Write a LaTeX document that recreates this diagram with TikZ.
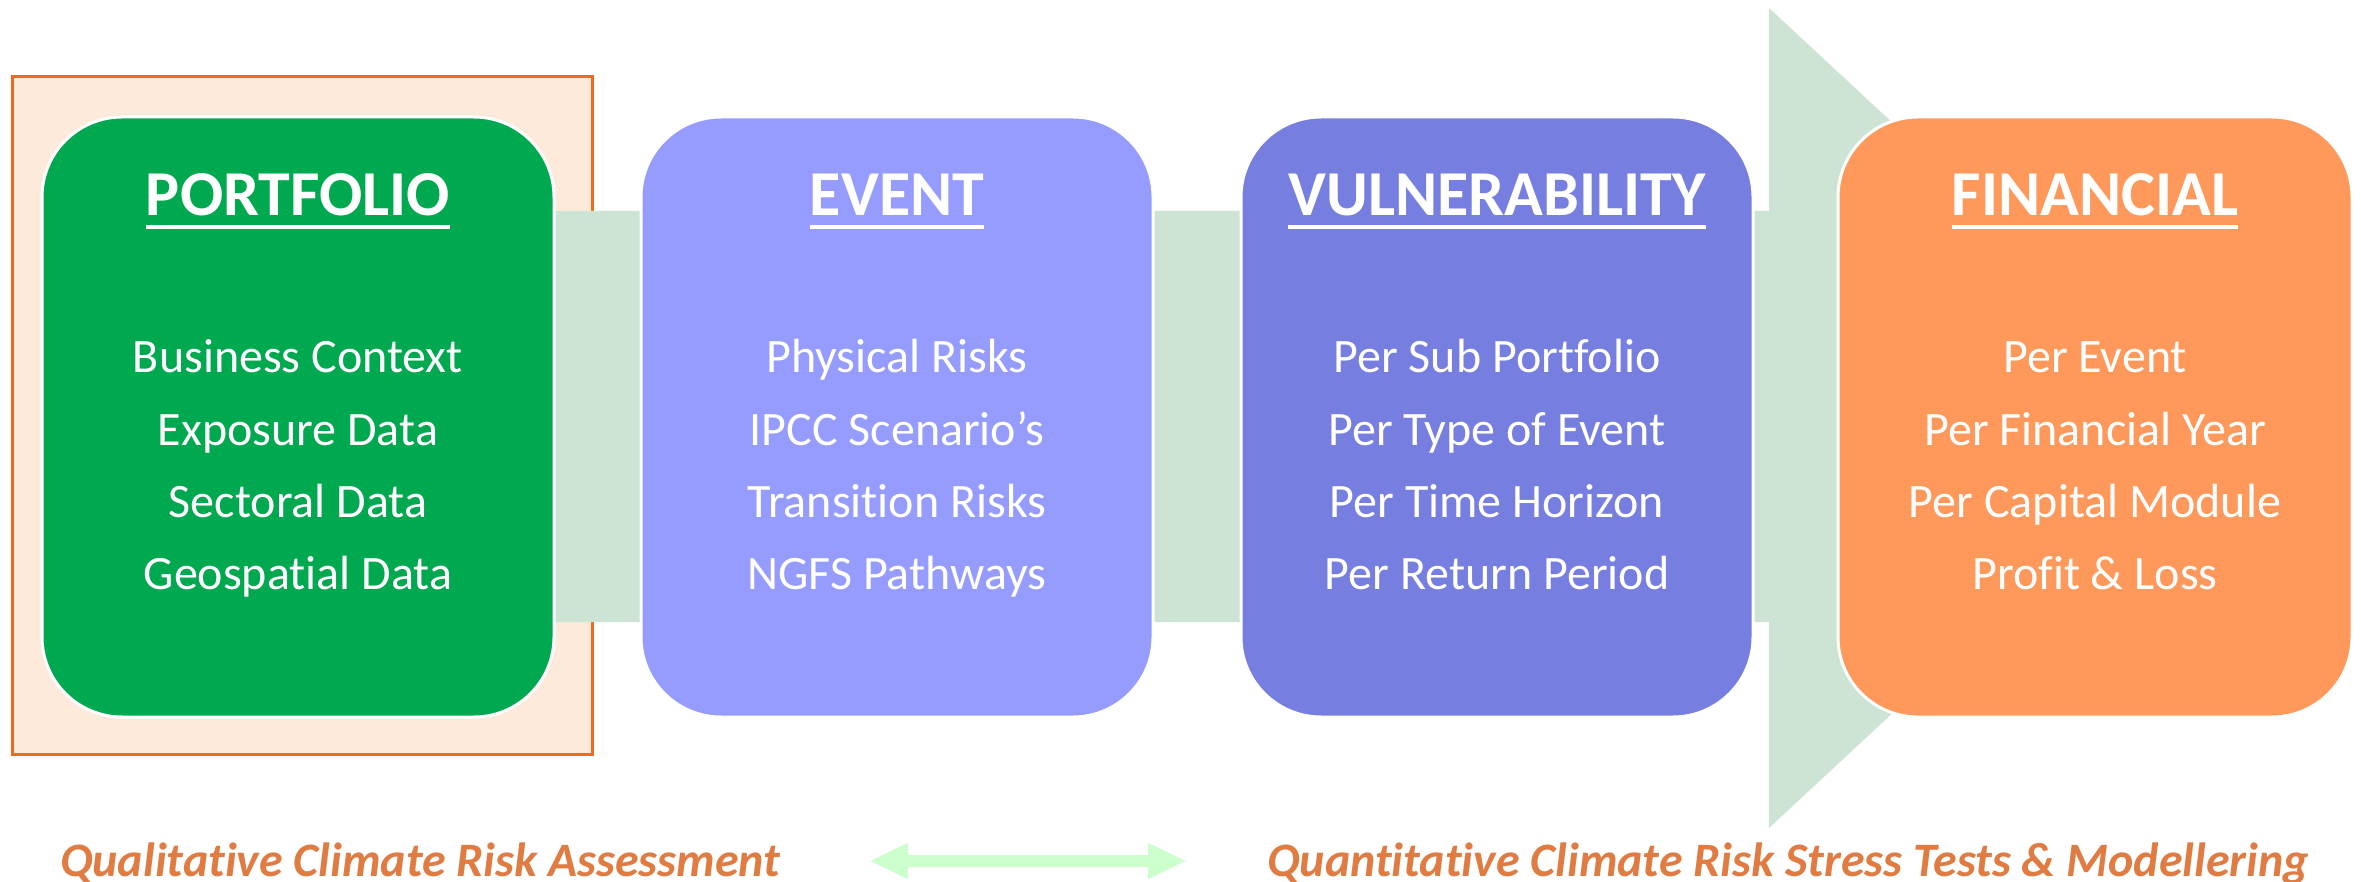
\documentclass[tikz,border=0pt]{standalone}
\usepackage{fontspec}
\setmainfont{Carlito}[Ligatures=NoCommon]
\usetikzlibrary{arrows.meta}
\definecolor{pgreen}{HTML}{00A84F}
\definecolor{pevent}{HTML}{959CFD}
\definecolor{pvuln}{HTML}{767EE0}
\definecolor{pfin}{HTML}{FF995B}
\definecolor{bandc}{HTML}{CDE3D4}
\definecolor{framec}{HTML}{EE6A1E}
\definecolor{framefill}{HTML}{FDEADB}
\definecolor{footc}{HTML}{E07B42}
\definecolor{dblc}{HTML}{CCFFCC}
\begin{document}
\begin{tikzpicture}[x=1pt,y=-1pt,
  box/.style={draw=white, line width=3pt, rounded corners=80pt, minimum width=512pt, minimum height=600pt, inner sep=0pt},
  title/.style={text=white, inner sep=0pt, anchor=base, font=\bfseries\fontsize{64}{64}\selectfont},
  uline/.style={white, line width=4pt},
  body/.style={text=white, inner sep=0pt, anchor=base, font=\fontsize{48}{48}\selectfont},
  foot/.style={text=footc, inner sep=0pt, anchor=base west, font=\bfseries\itshape\fontsize{48}{48}\selectfont}
]
\useasboundingbox (0,0) rectangle (2361,882);
\fill[white] (0,0) rectangle (2361,882);
% frame
\draw[framec, fill=framefill, line width=3pt] (12,77) rectangle (592,754);
% band arrow
\coordinate (b1) at (300,211);
\coordinate (b2) at (1769,211);
\coordinate (b3) at (1769,8);
\coordinate (b4) at (2210,418);
\coordinate (b5) at (1769,828);
\coordinate (b6) at (1769,622);
\coordinate (b7) at (300,622);
\fill[bandc] (b1) -- (b2) -- (b3) -- (b4) -- (b5) -- (b6) -- (b7) -- cycle;
% boxes
\node[box, fill=pgreen] (portfolio) at (298,417) {};
\node[box, fill=pevent] (event) at (897,417) {};
\node[box, fill=pvuln] (vuln) at (1497,417) {};
\node[box, fill=pfin, minimum width=514pt] (fin) at (2095,417) {};
% titles
\node[title] (tP) at (298,216) {PORTFOLIO};
\node[title] (tE) at (897,216) {EVENT};
\node[title] (tV) at (1497,216) {VULNERABILITY};
\node[title] (tF) at (2095,216) {FINANCIAL};
\foreach \n in {tP,tE,tV,tF}
  \draw[uline] ([yshift=-11pt]\n.base west) -- ([yshift=-11pt]\n.base east);
% body lines
\foreach \t [count=\i] in {Business Context, Exposure Data, Sectoral Data, Geospatial Data}
  \node[body] (p\i) at (298,{373+72*(\i-1)}) {\t};
\foreach \t [count=\i] in {Physical Risks, IPCC Scenario’s, Transition Risks, NGFS Pathways}
  \node[body] (e\i) at (897,{373+72*(\i-1)}) {\t};
\foreach \t [count=\i] in {Per Sub Portfolio, Per Type of Event, Per Time Horizon, Per Return Period}
  \node[body] (v\i) at (1497,{373+72*(\i-1)}) {\t};
\foreach \t [count=\i] in {Per Event, Per Financial Year, Per Capital Module, Profit \& Loss}
  \node[body] (f\i) at (2095,{373+72*(\i-1)}) {\t};
% footer
\node[foot] (qual) at (60,876) {Qualitative Climate Risk Assessment};
\node[foot] (quant) at (1267,876) {Quantitative Climate Risk Stress Tests \& Modellering};
\coordinate (dl) at (869,861);
\coordinate (dr) at (1187,861);
\draw[dblc, line width=12pt, {Triangle[width=33pt,length=39pt]}-{Triangle[width=33pt,length=39pt]}] (dl) -- (dr);
\end{tikzpicture}
\end{document}
